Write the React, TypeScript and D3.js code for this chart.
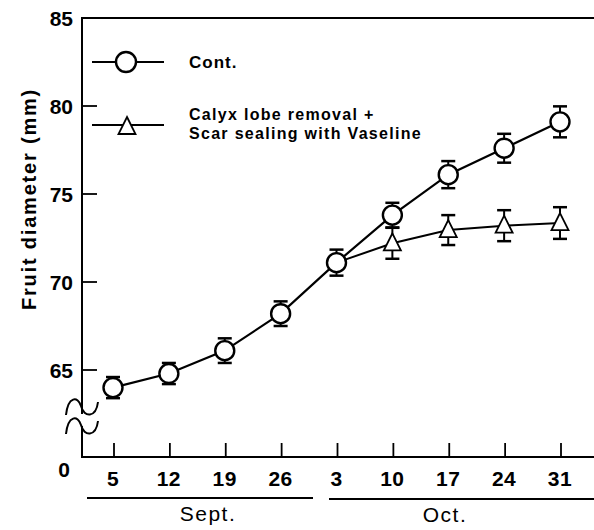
import React from "react";
import * as d3 from "d3";

const dayOffsets = [0, 7, 14, 21, 28, 35, 42, 49, 56];
const tickLabels = ["5", "12", "19", "26", "3", "10", "17", "24", "31"];
const yTicks = [65, 70, 75, 80, 85];

const contMean = [64.0, 64.8, 66.1, 68.2, 71.1, 73.8, 76.1, 77.6, 79.1];
const contErr = [0.6, 0.6, 0.7, 0.7, 0.74, 0.7, 0.77, 0.82, 0.88];

const treatDays = [28, 35, 42, 49, 56];
const treatMean = [71.1, 72.2, 72.95, 73.2, 73.35];
const treatErr = [0, 0.88, 0.85, 0.88, 0.9];

const FONT = "'Liberation Sans', Arial, Helvetica, sans-serif";

export default function App() {
  const W = 594, H = 530;
  const axisX = 82, bottomY = 457, topY = 18;
  const x = d3.scaleLinear().domain([0, 56]).range([113, 560]);
  const y = d3.scaleLinear().domain([65, 85]).range([370, 18]);

  const line = d3.line<[number, number]>().x(d => x(d[0])).y(d => y(d[1]));
  const contPts: [number, number][] = dayOffsets.map((d, i) => [d, contMean[i]]);
  const treatPts: [number, number][] = treatDays.map((d, i) => [d, treatMean[i]]);

  const tri = (cx: number, cy: number) =>
    `M${cx},${cy - 10} L${cx + 8.5},${cy + 7} L${cx - 8.5},${cy + 7} Z`;

  const errBar = (cx: number, m: number, e: number, key: string) => {
    if (e <= 0) return null;
    const y1 = y(m + e), y2 = y(m - e);
    return (
      <g key={key}>
        <line x1={cx} x2={cx} y1={y1} y2={y2} stroke="#000" strokeWidth={2} />
        <line x1={cx - 7} x2={cx + 7} y1={y1} y2={y1} stroke="#000" strokeWidth={2.5} />
        <line x1={cx - 7} x2={cx + 7} y1={y2} y2={y2} stroke="#000" strokeWidth={2.5} />
      </g>
    );
  };

  return (
    <svg width={W} height={H} style={{ position: "absolute", left: 0, top: 0, background: "#fff" }}>
      <rect x={0} y={0} width={W} height={H} fill="#fff" />
      {/* frame */}
      <line x1={axisX} x2={W} y1={topY} y2={topY} stroke="#000" strokeWidth={2} />
      <line x1={axisX} x2={axisX} y1={topY - 1} y2={414} stroke="#000" strokeWidth={2} />
      <line x1={axisX} x2={axisX} y1={426} y2={bottomY + 1} stroke="#000" strokeWidth={2} />
      <line x1={axisX - 1} x2={W} y1={bottomY} y2={bottomY} stroke="#000" strokeWidth={2} />
      {/* break symbol */}
      <path d="M66,415 C68,396 78,396 81,406 C84,418 96,418 98,402" fill="none" stroke="#000" strokeWidth={2} />
      <path d="M66,434 C68,415 78,415 81,425 C84,437 96,437 98,421" fill="none" stroke="#000" strokeWidth={2} />
      {/* y ticks */}
      {yTicks.map(t => (
        <g key={t}>
          {t !== 85 && <line x1={axisX} x2={axisX + 15} y1={y(t)} y2={y(t)} stroke="#000" strokeWidth={1.8} />}
          <text x={73} y={y(t)} dy="0.36em" textAnchor="end" fontFamily={FONT} fontWeight="bold" fontSize={21}>{t}</text>
        </g>
      ))}
      <text x={64} y={477} textAnchor="middle" fontFamily={FONT} fontWeight="bold" fontSize={21}>0</text>
      {/* x ticks */}
      {dayOffsets.map((d, i) => (
        <g key={d}>
          <line x1={x(d) + 1} x2={x(d) + 1} y1={bottomY} y2={bottomY - 14} stroke="#000" strokeWidth={1.8} />
          <text x={x(d)} y={486} textAnchor="middle" fontFamily={FONT} fontWeight="bold" fontSize={21} letterSpacing={0.5}>{tickLabels[i]}</text>
        </g>
      ))}
      {/* month underlines */}
      <line x1={87} x2={313} y1={498} y2={498} stroke="#000" strokeWidth={2} />
      <line x1={329} x2={W} y1={499} y2={499} stroke="#000" strokeWidth={2} />
      <text x={208} y={521} textAnchor="middle" fontFamily={FONT} fontSize={21} letterSpacing={1.5}>Sept.</text>
      <text x={445} y={522} textAnchor="middle" fontFamily={FONT} fontSize={21} letterSpacing={1.5}>Oct.</text>
      {/* y title */}
      <text transform="translate(36,199) rotate(-90)" textAnchor="middle" fontFamily={FONT} fontWeight="bold" fontSize={20} letterSpacing={1.8}>Fruit diameter (mm)</text>

      {/* series lines */}
      <path d={line(treatPts) || ""} fill="none" stroke="#000" strokeWidth={2} />
      <path d={line(contPts) || ""} fill="none" stroke="#000" strokeWidth={2.2} />
      {/* error bars */}
      {contPts.map((p, i) => errBar(x(p[0]), p[1], contErr[i], "ce" + i))}
      {treatPts.map((p, i) => errBar(x(p[0]), p[1], treatErr[i], "te" + i))}
      {/* markers */}
      {treatPts.slice(1).map((p, i) => (
        <path key={"t" + i} d={tri(x(p[0]), y(p[1]))} fill="#fff" stroke="#000" strokeWidth={1.8} />
      ))}
      {contPts.map((p, i) => (
        <circle key={"c" + i} cx={x(p[0])} cy={y(p[1])} r={9.5} fill="#fff" stroke="#000" strokeWidth={2.4} />
      ))}

      {/* legend */}
      <line x1={92} x2={164} y1={62} y2={62} stroke="#000" strokeWidth={2} />
      <circle cx={126} cy={62} r={10} fill="#fff" stroke="#000" strokeWidth={2.4} />
      <text x={189} y={68} fontFamily={FONT} fontWeight="bold" fontSize={17} letterSpacing={1}>Cont.</text>
      <line x1={92} x2={164} y1={125} y2={125} stroke="#000" strokeWidth={2} />
      <path d={tri(127, 127)} fill="#fff" stroke="#000" strokeWidth={1.8} />
      <text x={189} y={119.5} fontFamily={FONT} fontWeight="bold" fontSize={16} letterSpacing={1.3}>Calyx lobe removal +</text>
      <text x={189} y={138.5} fontFamily={FONT} fontWeight="bold" fontSize={16} letterSpacing={1.3}>Scar sealing with Vaseline</text>
    </svg>
  );
}
